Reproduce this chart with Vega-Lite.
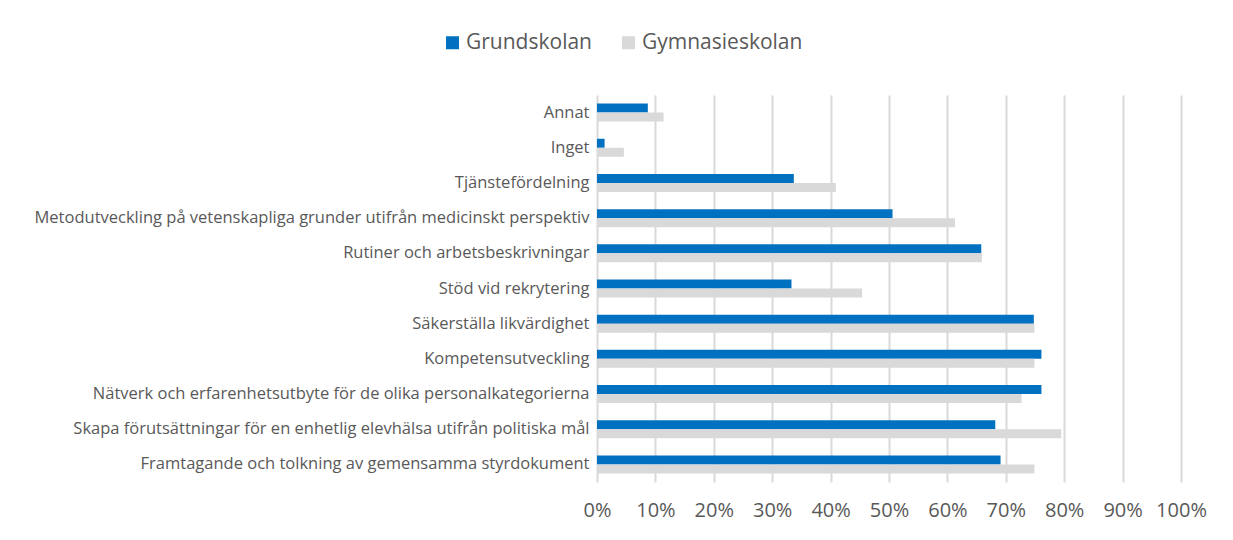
{
  "$schema": "https://vega.github.io/schema/vega-lite/v6.json",
  "width": 584,
  "height": 387,
  "autosize": {"type": "none"},
  "padding": {"left": 597, "top": 95, "right": 52, "bottom": 58},
  "background": "white",
  "config": {
    "font": "Open Sans",
    "view": {"stroke": null},
    "axis": {"labelColor": "#595959", "labelFont": "Open Sans"},
    "legend": {"labelColor": "#595959", "labelFont": "Open Sans"}
  },
  "data": {
    "values": [
      {"kategori": "Annat", "serie": "Grundskolan", "andel": 0.087},
      {"kategori": "Annat", "serie": "Gymnasieskolan", "andel": 0.114},
      {"kategori": "Inget", "serie": "Grundskolan", "andel": 0.013},
      {"kategori": "Inget", "serie": "Gymnasieskolan", "andel": 0.046},
      {"kategori": "Tjänstefördelning", "serie": "Grundskolan", "andel": 0.337},
      {"kategori": "Tjänstefördelning", "serie": "Gymnasieskolan", "andel": 0.409},
      {"kategori": "Metodutveckling på vetenskapliga grunder utifrån medicinskt perspektiv", "serie": "Grundskolan", "andel": 0.506},
      {"kategori": "Metodutveckling på vetenskapliga grunder utifrån medicinskt perspektiv", "serie": "Gymnasieskolan", "andel": 0.613},
      {"kategori": "Rutiner och arbetsbeskrivningar\u00a0", "serie": "Grundskolan", "andel": 0.658},
      {"kategori": "Rutiner och arbetsbeskrivningar\u00a0", "serie": "Gymnasieskolan", "andel": 0.659},
      {"kategori": "Stöd vid rekrytering", "serie": "Grundskolan", "andel": 0.333},
      {"kategori": "Stöd vid rekrytering", "serie": "Gymnasieskolan", "andel": 0.454},
      {"kategori": "Säkerställa likvärdighet", "serie": "Grundskolan", "andel": 0.748},
      {"kategori": "Säkerställa likvärdighet", "serie": "Gymnasieskolan", "andel": 0.749},
      {"kategori": "Kompetensutveckling", "serie": "Grundskolan", "andel": 0.761},
      {"kategori": "Kompetensutveckling", "serie": "Gymnasieskolan", "andel": 0.749},
      {"kategori": "Nätverk och erfarenhetsutbyte för de olika personalkategorierna", "serie": "Grundskolan", "andel": 0.761},
      {"kategori": "Nätverk och erfarenhetsutbyte för de olika personalkategorierna", "serie": "Gymnasieskolan", "andel": 0.727},
      {"kategori": "Skapa förutsättningar för en enhetlig elevhälsa utifrån politiska mål", "serie": "Grundskolan", "andel": 0.682},
      {"kategori": "Skapa förutsättningar för en enhetlig elevhälsa utifrån politiska mål", "serie": "Gymnasieskolan", "andel": 0.795},
      {"kategori": "Framtagande och tolkning av gemensamma styrdokument\u00a0", "serie": "Grundskolan", "andel": 0.691},
      {"kategori": "Framtagande och tolkning av gemensamma styrdokument\u00a0", "serie": "Gymnasieskolan", "andel": 0.749}
    ]
  },
  "mark": {"type": "bar"},
  "encoding": {
    "y": {
      "field": "kategori",
      "type": "nominal",
      "sort": null,
      "scale": {"paddingInner": 0.488, "paddingOuter": 0.244},
      "axis": {
        "title": null,
        "domain": false,
        "ticks": false,
        "labelFontSize": 16.5,
        "labelPadding": 8,
        "labelLimit": 0
      }
    },
    "yOffset": {"field": "serie", "type": "nominal", "sort": ["Grundskolan", "Gymnasieskolan"]},
    "x": {
      "field": "andel",
      "type": "quantitative",
      "scale": {"domain": [0, 1], "nice": false},
      "axis": {
        "title": null,
        "format": ".0%",
        "values": [0, 0.1, 0.2, 0.3, 0.4, 0.5, 0.6, 0.7, 0.8, 0.9, 1],
        "domain": false,
        "ticks": false,
        "grid": true,
        "gridColor": "#d9d9d9",
        "gridWidth": 2,
        "labelFontSize": 20,
        "labelPadding": 18,
        "labelOverlap": false,
        "labelFlush": false
      }
    },
    "color": {
      "field": "serie",
      "type": "nominal",
      "scale": {"domain": ["Grundskolan", "Gymnasieskolan"], "range": ["#0070C0", "#D9D9D9"]},
      "legend": {
        "title": null,
        "orient": "none",
        "direction": "horizontal",
        "legendX": -155,
        "legendY": -63,
        "symbolType": "square",
        "symbolSize": 169,
        "symbolStrokeWidth": 0,
        "symbolOpacity": 1,
        "labelFontSize": 21,
        "labelOffset": 3,
        "labelLimit": 0,
        "columnPadding": 26
      }
    }
  }
}
